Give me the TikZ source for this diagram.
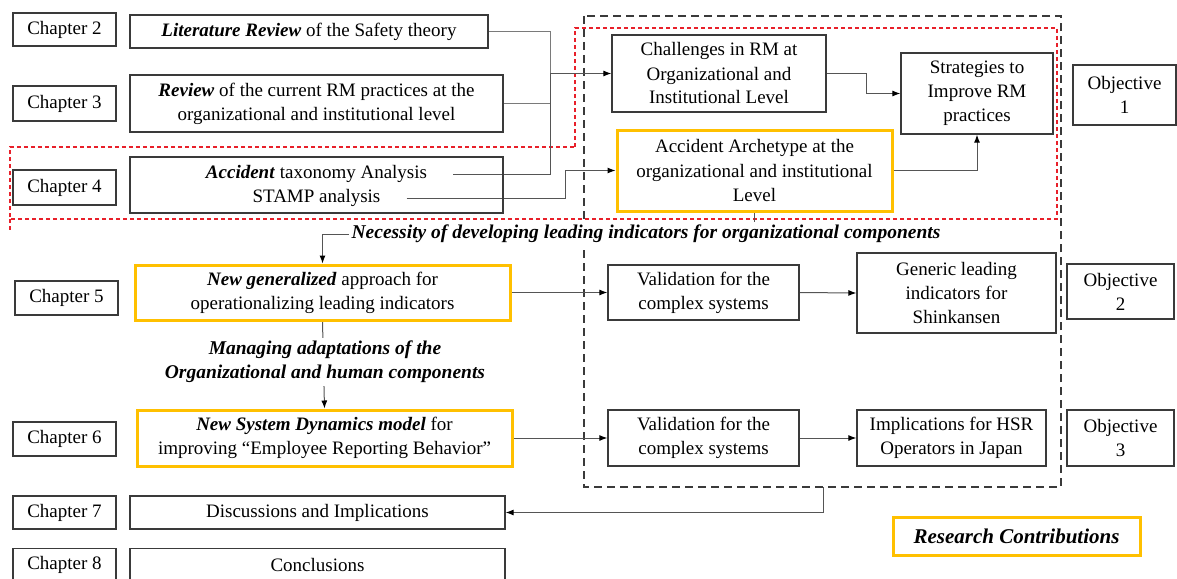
\documentclass[tikz,border=0pt]{standalone}
\usepackage{fontspec}
\setmainfont{Liberation Serif}
\usetikzlibrary{arrows.meta,calc}
\pgfdeclarelayer{bg}
\pgfsetlayers{bg,main}
\definecolor{boxline}{HTML}{3A3A3A}
\definecolor{hlcol}{HTML}{FFC000}
\definecolor{wire}{HTML}{555555}
\definecolor{lightwire}{HTML}{7A7A7A}
\definecolor{redframe}{HTML}{E8202A}
\begin{document}
\begin{tikzpicture}[x=1pt,y=-1pt,
  font=\fontsize{19}{24}\selectfont,
  box/.style={draw=boxline,line width=1.3pt,align=center,inner sep=0pt},
  hlbox/.style={draw=hlcol,line width=3pt,align=center,inner sep=0pt},
  lbl/.style={inner sep=0pt,align=center},
  note/.style={fill=white,align=center,inner sep=3pt,font=\fontsize{19.5}{24}\selectfont\bfseries\itshape},
  wireline/.style={draw=wire,line width=1pt},
  softline/.style={draw=lightwire,line width=1pt},
  arr/.style={wireline,-{Latex[length=8pt,width=6pt,fill=black,color=black]}}]
\useasboundingbox (0,0) rectangle (1177,578);

% chapter labels
\node[box,minimum width=103pt,minimum height=33pt] (c2) at (64.5,29.5) {Chapter 2};
\node[box,minimum width=103pt,minimum height=35pt] (c3) at (64.5,103.5) {Chapter 3};
\node[box,minimum width=103pt,minimum height=35pt] (c4) at (64.5,187.5) {Chapter 4};
\node[box,minimum width=103pt,minimum height=34pt] (c5) at (66.5,298) {Chapter 5};
\node[box,minimum width=103pt,minimum height=34pt] (c6) at (64.5,439) {Chapter 6};
\node[box,minimum width=103pt,minimum height=33pt] (c7) at (64.5,512.5) {Chapter 7};
\node[box,minimum width=103pt,minimum height=33pt] (c8) at (64.5,565) {Chapter 8};

% chapter contents
\node[box,minimum width=358pt,minimum height=33pt] (lit) at (309,31.5) {\textbf{\textit{Literature Review}} of the Safety theory};
\node[box,minimum width=373pt,minimum height=57pt] (rev) at (316.5,103.5) {\textbf{\textit{Review}} of the current RM practices at the\\organizational and institutional level};
\node[box,minimum width=373pt,minimum height=56pt] (acc) at (316.5,185) {};
\node[lbl] (acc1) at (316.5,174) {\textbf{\textit{Accident}} taxonomy Analysis};
\node[lbl] (acc2) at (316.5,198) {STAMP analysis};
\node[hlbox,minimum width=375pt,minimum height=55pt] (gen) at (322.5,292.5) {\textbf{\textit{New generalized}} approach for\\operationalizing leading indicators};
\node[hlbox,minimum width=375pt,minimum height=56pt] (sd) at (324.5,438) {\textbf{\textit{New System Dynamics model}} for\\improving “Employee Reporting Behavior”};
\node[box,minimum width=375pt,minimum height=33pt] (disc) at (317.5,512.5) {Discussions and Implications};
\node[box,minimum width=375pt,minimum height=33pt] (conc) at (317.5,565) {Conclusions};

% outcomes
\node[box,minimum width=214pt,minimum height=77pt] (chal) at (719,73.5) {Challenges in RM at\\Organizational and\\Institutional Level};
\node[box,minimum width=152pt,minimum height=81pt] (strat) at (977,93.5) {Strategies to\\Improve RM\\practices};
\node[hlbox,minimum width=275pt,minimum height=81pt] (arch) at (754.5,170.5) {Accident Archetype at the\\organizational and institutional\\Level};
\node[box,minimum width=191pt,minimum height=55pt] (val1) at (703.5,292.5) {Validation for the\\complex systems};
\node[box,minimum width=199pt,minimum height=80pt] (lead) at (956.5,293) {Generic leading\\indicators for\\Shinkansen};
\node[box,minimum width=191pt,minimum height=56pt] (val2) at (703.5,438) {Validation for the\\complex systems};
\node[box,minimum width=189pt,minimum height=56pt] (impl) at (951.5,438) {Implications for HSR\\Operators in Japan};

% objectives
\node[box,minimum width=103pt,minimum height=60pt] (o1) at (1124.5,95) {Objective\\1};
\node[box,minimum width=107pt,minimum height=55pt] (o2) at (1120.5,291.5) {Objective\\2};
\node[box,minimum width=107pt,minimum height=56pt] (o3) at (1120.5,438) {Objective\\3};

\node[hlbox,minimum width=247pt,minimum height=38pt,font=\fontsize{21}{24}\selectfont\bfseries\itshape] (rc) at (1016.5,536) {Research Contributions};

% bridging notes
\node[note] (nec) at (646,234) {Necessity of developing leading indicators for organizational components};
\node[note] (man) at (325,362) {Managing adaptations of the\\Organizational and human components};

\begin{pgfonlayer}{bg}
  % grouping frames
  \draw[boxline,line width=1.3pt,dash pattern=on 8pt off 5pt] (584,16) rectangle (1061,487);
  \coordinate (rcb) at (823,487);
  \draw[redframe,line width=1.2pt,dash pattern=on 4pt off 3pt]
    (575,147) -- (575,28) -- (1057,28) -- (1057,219) -- (10,219) -- (10,147) -- cycle;
  \draw[redframe,line width=1.2pt,dash pattern=on 4pt off 3pt] (10,219) -- (10,230);

  % connectors
  \coordinate (j1) at (550,73.5);
  \coordinate (j2) at (565,170.5);
  \draw[softline] (lit.east) -| (j1);
  \draw[softline] (rev.east) -| (j1);
  \draw[wireline] ($(acc1.east)+(26,0)$) -| (j1);
  \draw[arr] (j1) -- (chal.west);
  \draw[wireline] ($(acc2.east)+(26,0)$) -| (j2);
  \draw[arr] (j2) -- (arch.west);
  \draw[arr] (chal.east) -- ++(40,0) |- (strat.west);
  \draw[arr] (arch.east) -| (strat.south);
  \draw[arr] (arch.south) |- (gen.north |- nec.center) -- (gen.north);
  \draw[arr] (gen.south) -- (sd.north);
  \draw[arr] (gen.east) -- (val1.west);
  \draw[arr] (val1.east) -- (lead.west);
  \draw[arr] (sd.east) -- (val2.west);
  \draw[arr] (val2.east) -- (impl.west);
  \draw[arr] (rcb) |- (disc.east);
\end{pgfonlayer}
\end{tikzpicture}
\end{document}
